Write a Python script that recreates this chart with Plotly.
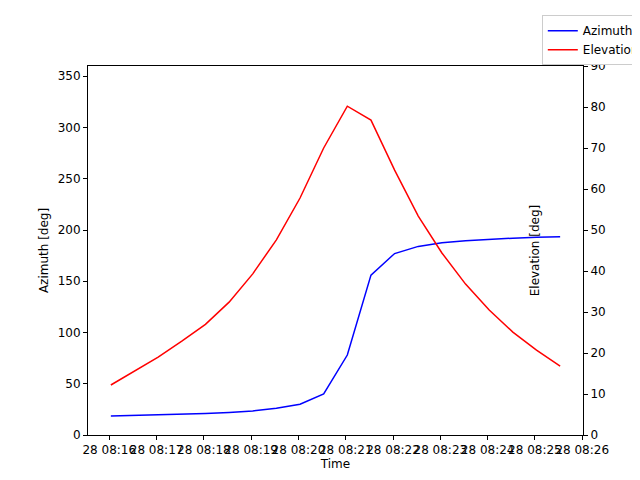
import plotly.graph_objects as go
import pandas as pd

times = pd.date_range("2024-01-28 08:16:02", periods=20, freq="30s")
azimuth = [18.5, 19, 19.5, 20, 21, 22, 23.5, 26, 30, 40, 78, 156, 177, 184, 187.5, 189.5, 191, 192, 193, 193.5]
elevation = [12.2, 15.6, 19, 22.9, 27, 32.4, 39.3, 47.6, 57.8, 70, 80.2, 76.8, 64.6, 53.4, 44.4, 36.8, 30.5, 25.1, 20.7, 16.8]
tick_vals = pd.date_range("2024-01-28 08:16", periods=11, freq="1min")
tick_text = [t.strftime("%d %H:%M") for t in tick_vals]

fig = go.Figure()
fig.add_trace(go.Scatter(x=times, y=azimuth, mode="lines", name="Azimuth", line=dict(color="blue", width=1.5)))
fig.add_trace(go.Scatter(x=times, y=elevation, mode="lines", name="Elevation", yaxis="y2", line=dict(color="red", width=1.5)))

axis_common = dict(showline=True, linecolor="black", mirror=False, ticks="outside", ticklen=4,
                   tickcolor="black", showgrid=False, zeroline=False, tickfont=dict(size=12, color="black"))
fig.update_layout(
    width=640, height=480, plot_bgcolor="white", paper_bgcolor="white",
    font=dict(family="DejaVu Sans", size=12, color="black"),
    margin=dict(l=80, r=65, t=58, b=53, autoexpand=False),
    xaxis=dict(axis_common, tickvals=tick_vals, ticktext=tick_text, tickangle=0, automargin=False,
               range=[pd.Timestamp("2024-01-28 08:15:33"), pd.Timestamp("2024-01-28 08:26:01")],
               title=dict(text="Time", standoff=2, font=dict(size=12)), mirror=True),
    yaxis=dict(axis_common, range=[0, 360], dtick=50, automargin=False,
               title=dict(text="Azimuth [deg]", standoff=6, font=dict(size=12))),
    yaxis2=dict(axis_common, overlaying="y", side="right", range=[0, 90], dtick=10, automargin=False,
                title=dict(text="Elevation [deg]", standoff=6, font=dict(size=12))),
    legend=dict(x=0.995, y=0.985, xref="container", yref="container", xanchor="right", yanchor="top",
                bordercolor="#cccccc", borderwidth=1, bgcolor="white", font=dict(size=12)),
    showlegend=True,
)
fig.write_html("out.html")
